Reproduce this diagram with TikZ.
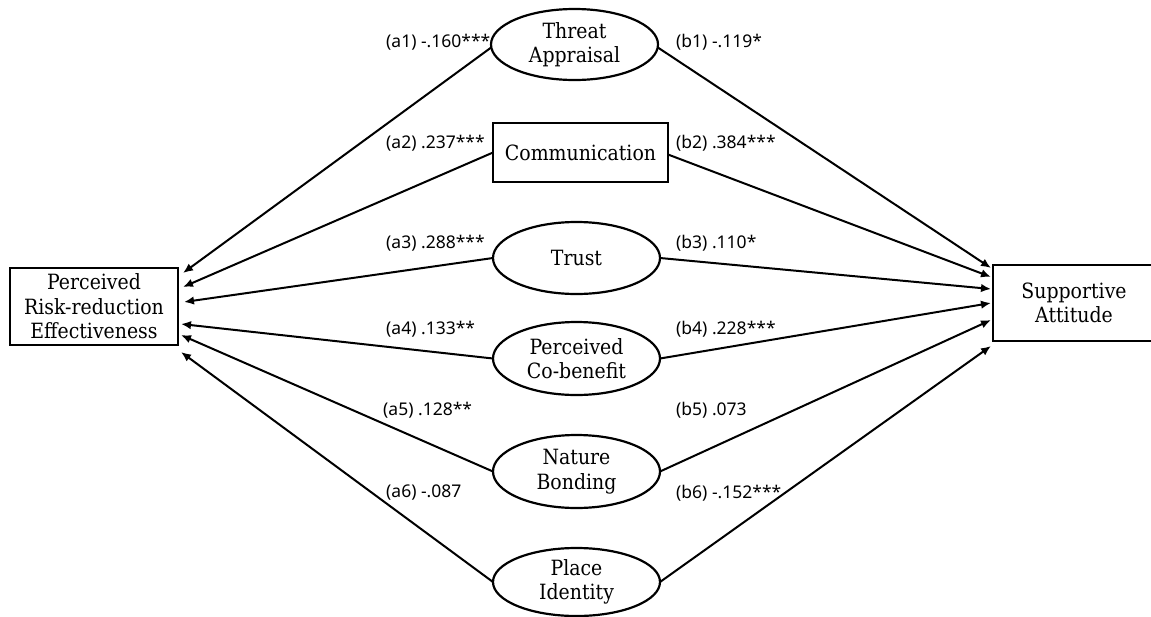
\documentclass[tikz,border=0pt]{standalone}
\usepackage{fontspec}
\setmainfont{DejaVu Serif}[FakeStretch=0.9]
\newfontfamily\lblfont{Noto Sans}
\usetikzlibrary{shapes.geometric,arrows.meta}
\begin{document}
\begin{tikzpicture}[x=1pt,y=-1pt,
  every node/.style={font=\fontsize{21}{24.5}\selectfont},
  boxnode/.style={draw,line width=2.2pt,rectangle,inner sep=0pt,outer sep=0pt,align=center},
  ellnode/.style={draw,line width=2.2pt,ellipse,inner sep=0pt,outer sep=0pt,align=center,minimum width=167pt},
  path/.style={line width=2pt,-{Latex[length=10pt,width=8.5pt]}},
  coef/.style={font=\lblfont\fontsize{17.5}{20}\selectfont,inner sep=0pt,anchor=west}
]
\useasboundingbox (0,0) rectangle (1151,616);

\node[boxnode,minimum width=168pt,minimum height=77pt] (L) at (94,306.5) {Perceived\\Risk-reduction\\Effectiveness};
\node[boxnode,minimum width=162pt,minimum height=76pt] (R) at (1074,303) {Supportive\\Attitude};

\node[ellnode,minimum height=71pt] (TA) at (574.5,44.5) {Threat\\Appraisal};
\node[boxnode,minimum width=175pt,minimum height=59pt] (CM) at (580.5,152.5) {Communication};
\node[ellnode,minimum height=72pt] (TR) at (576.5,258) {Trust};
\node[ellnode,minimum height=73pt] (CB) at (576.5,358.5) {Perceived\\Co-benefit};
\node[ellnode,minimum height=73pt] (NB) at (576.5,471.5) {Nature\\Bonding};
\node[ellnode,minimum height=68pt] (PI) at (576.5,582) {Place\\Identity};

% arrow tips on the outcome boxes
\coordinate (la1) at (183,273);
\coordinate (la2) at (183,287);
\coordinate (la3) at (184,302);
\coordinate (la4) at (181,324);
\coordinate (la5) at (181,335);
\coordinate (la6) at (181,352);
\coordinate (rb1) at (991,268);
\coordinate (rb2) at (991,277);
\coordinate (rb3) at (991,289);
\coordinate (rb4) at (991,303);
\coordinate (rb5) at (991,320);
\coordinate (rb6) at (991,346);

\draw[path] (TA.182) -- (la1);
\draw[path] (CM.west) -- (la2);
\draw[path] (TR.west) -- (la3);
\draw[path] (CB.west) -- (la4);
\draw[path] (NB.west) -- (la5);
\draw[path] (PI.west) -- (la6);

\draw[path] (TA.-2) -- (rb1);
\draw[path] ([yshift=-2pt]CM.east) -- (rb2);
\draw[path] (TR.east) -- (rb3);
\draw[path] (CB.east) -- (rb4);
\draw[path] (NB.east) -- (rb5);
\draw[path] (PI.east) -- (rb6);

\node[coef] (ta1) at (386,42) {(a1) -.160***};
\node[coef] (ta2) at (386,143) {(a2) .237***};
\node[coef] (ta3) at (386,243) {(a3) .288***};
\node[coef] (ta4) at (386,329) {(a4) .133**};
\node[coef] (ta5) at (383,410) {(a5) .128**};
\node[coef] (ta6) at (386,493) {(a6) -.087};

\node[coef] (tb1) at (676,42) {(b1) -.119*};
\node[coef] (tb2) at (676,143) {(b2) .384***};
\node[coef] (tb3) at (676,243) {(b3) .110*};
\node[coef] (tb4) at (676,329) {(b4) .228***};
\node[coef] (tb5) at (676,410) {(b5) .073};
\node[coef] (tb6) at (676,493) {(b6) -.152***};
\end{tikzpicture}
\end{document}
